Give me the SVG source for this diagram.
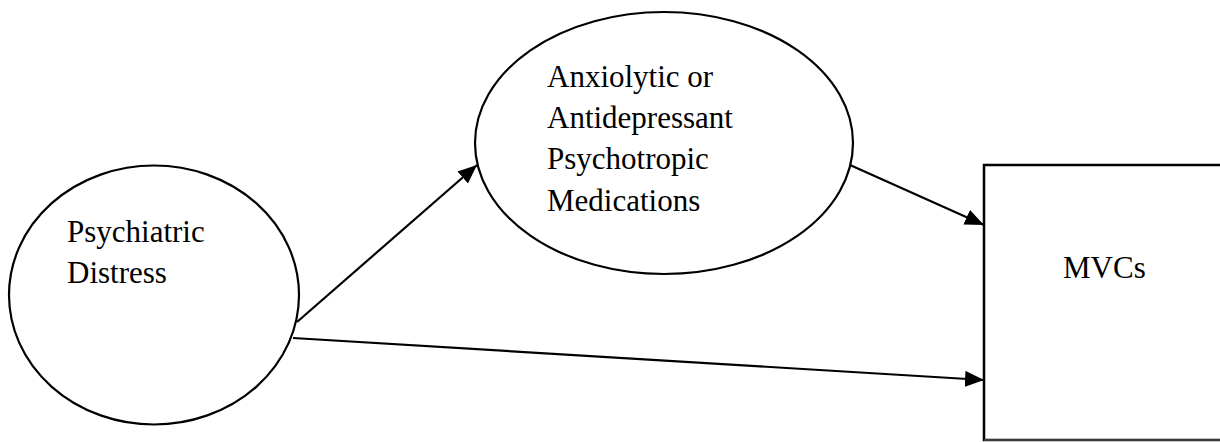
<svg xmlns="http://www.w3.org/2000/svg" width="1220" height="442" viewBox="0 0 1220 442">
<style>
.node{fill:#fff;stroke:#000;stroke-width:2.2}
.lbl{font-family:"Liberation Serif","Times New Roman",serif;font-size:31px;fill:#000}
.edge{fill:none;stroke:#000;stroke-width:2.2}
</style>
<defs>
<marker id="arr" markerUnits="userSpaceOnUse" markerWidth="20" markerHeight="16" refX="19" refY="8" orient="auto">
<path d="M0,0 L19,8 L0,16 Z" fill="#000"/>
</marker>
</defs>
<rect width="1220" height="442" fill="#fff"/>
<g id="distress">
<ellipse class="node" cx="154" cy="295" rx="145" ry="129.5"/>
<text class="lbl" x="67" y="242">Psychiatric</text>
<text class="lbl" x="67" y="283">Distress</text>
</g>
<g id="meds">
<ellipse class="node" cx="664" cy="143" rx="189" ry="131"/>
<text class="lbl" x="547" y="87">Anxiolytic or</text>
<text class="lbl" x="547" y="128">Antidepressant</text>
<text class="lbl" x="547" y="169">Psychotropic</text>
<text class="lbl" x="547" y="211">Medications</text>
</g>
<g id="mvcs">
<path d="M1222,165 L984,165 L984,440 L1222,440" fill="#fff" stroke="#000" stroke-width="2.5"/>
<line x1="984" y1="440" x2="1222" y2="440" stroke="#777" stroke-width="1.2"/>
<text class="lbl" x="1063" y="278">MVCs</text>
</g>
<g id="connectors">
<line class="edge" x1="297" y1="322" x2="477" y2="165" marker-end="url(#arr)"/>
<line class="edge" x1="850" y1="165" x2="984" y2="225" marker-end="url(#arr)"/>
<line class="edge" x1="293" y1="338" x2="984" y2="380" marker-end="url(#arr)"/>
</g>
</svg>
